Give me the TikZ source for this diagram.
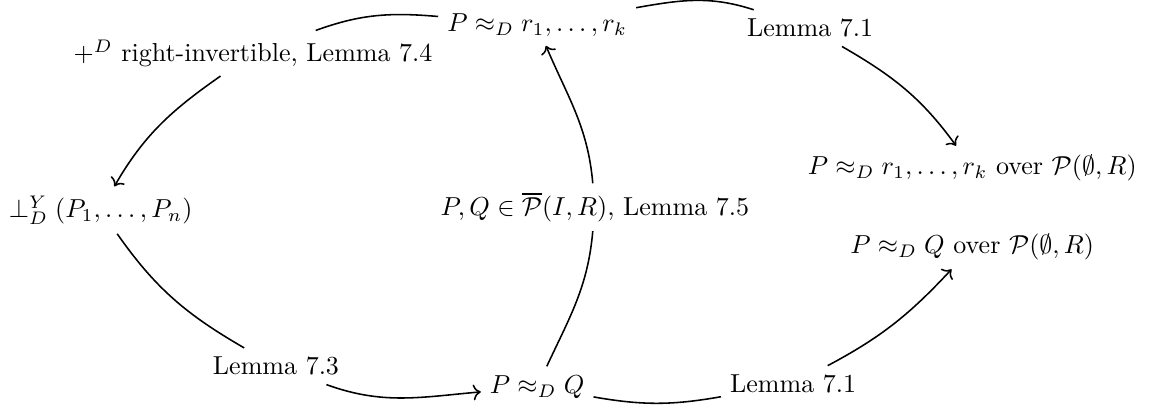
\documentclass[tikz,border=0pt]{standalone}
\usepackage{amsmath,amssymb}
\usepackage{tikz}
\usetikzlibrary{arrows.meta}

\begin{document}
\begin{tikzpicture}[
    seg/.style={semithick},
    arr/.style={semithick, ->}
  ]
  \useasboundingbox (0,0) rectangle (15.57,-5.57);
  % Statements.
  \node (rk)     at (7.26,-0.34)  {$P \approx_D r_1, \ldots, r_k$};
  \node (orth)   at (1.36,-2.84)  {$\perp^Y_D (P_1, \ldots, P_n)$};
  \node (pq)     at (7.26,-5.23)  {$P \approx_D Q$};
  \node (rkover) at (13.14,-2.27) {$P \approx_D r_1, \ldots, r_k$ over $\mathcal{P}(\emptyset, R)$};
  \node (qover)  at (13.14,-3.34) {$P \approx_D Q$ over $\mathcal{P}(\emptyset, R)$};
  % Justifications, sitting on the arcs.
  \node (l74)  at (3.42,-0.72)  {$+^D$ right-invertible, Lemma 7.4};
  \node (l73)  at (3.73,-4.95)  {Lemma 7.3};
  \node (l75)  at (8.04,-2.80)  {$P, Q \in \overline{\mathcal{P}}(I, R)$, Lemma 7.5};
  \node (l71a) at (10.95,-0.38) {Lemma 7.1};
  \node (l71b) at (10.72,-5.19) {Lemma 7.1};

  \draw[arr] (rk) to[out=175, in=20] (l74) to[out=215, in=60] (orth);
  \draw[arr] (orth) to[out=-55, in=150] (l73) to[out=-20, in=185] (pq);
  \draw[arr] (pq) to[out=65, in=-95] (l75) to[out=95, in=-67] (rk);
  \draw[arr] (rk) to[out=10, in=162] (l71a) to[out=-30, in=126] (rkover);
  \draw[arr] (pq) to[out=-10, in=190] (l71b) to[out=28, in=227] (qover);
\end{tikzpicture}
\end{document}
